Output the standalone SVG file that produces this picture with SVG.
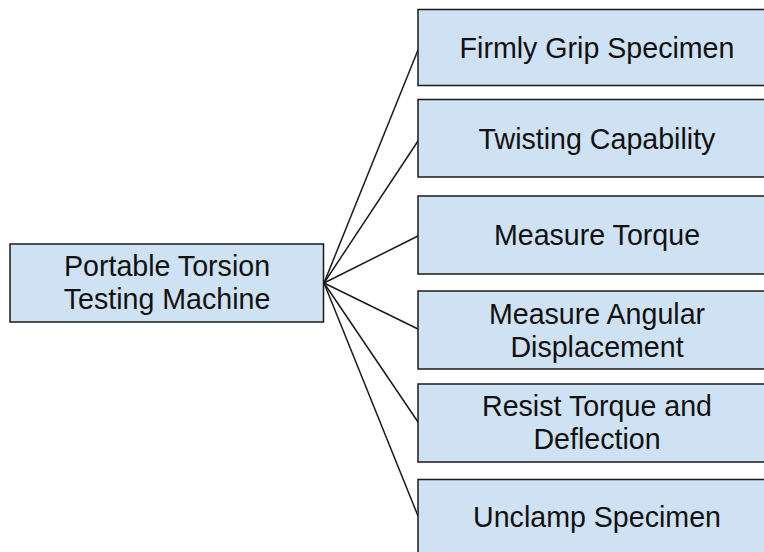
<svg xmlns="http://www.w3.org/2000/svg" width="764" height="552" viewBox="0 0 764 552">
<style>
.box{fill:#cfe2f3;stroke:#1a1a1a;stroke-width:1.5}
.lbl{font-family:"Liberation Sans",Arial,sans-serif;font-size:28.6px;fill:#111;text-anchor:middle}
.conn{stroke:#1a1a1a;stroke-width:1.5;fill:none}
</style>
<rect width="764" height="552" fill="#fff"/>
<g id="connectors">
<line class="conn" x1="324" y1="283" x2="418" y2="50"/>
<line class="conn" x1="324" y1="283" x2="418" y2="141"/>
<line class="conn" x1="324" y1="283" x2="418" y2="236"/>
<line class="conn" x1="324" y1="283" x2="418" y2="329"/>
<line class="conn" x1="324" y1="283" x2="418" y2="422"/>
<line class="conn" x1="324" y1="283" x2="418" y2="516"/>
</g>
<g id="main">
<rect class="box" x="10" y="244" width="313.5" height="78"/>
<text class="lbl" x="167" y="276">Portable Torsion</text>
<text class="lbl" x="167" y="308.5">Testing Machine</text>
</g>
<g id="n1">
<rect class="box" x="418" y="9.5" width="358" height="76"/>
<text class="lbl" x="597" y="57.5">Firmly Grip Specimen</text>
</g>
<g id="n2">
<rect class="box" x="418" y="99.5" width="358" height="77.5"/>
<text class="lbl" x="597" y="148.5">Twisting Capability</text>
</g>
<g id="n3">
<rect class="box" x="418" y="196" width="358" height="78"/>
<text class="lbl" x="597" y="244.5">Measure Torque</text>
</g>
<g id="n4">
<rect class="box" x="418" y="291" width="358" height="78"/>
<text class="lbl" x="597" y="324">Measure Angular</text>
<text class="lbl" x="597" y="357">Displacement</text>
</g>
<g id="n5">
<rect class="box" x="418" y="384" width="358" height="78"/>
<text class="lbl" x="597" y="415.5">Resist Torque and</text>
<text class="lbl" x="597" y="449">Deflection</text>
</g>
<g id="n6">
<rect class="box" x="418" y="479.5" width="358" height="78"/>
<text class="lbl" x="597" y="527">Unclamp Specimen</text>
</g>
</svg>
